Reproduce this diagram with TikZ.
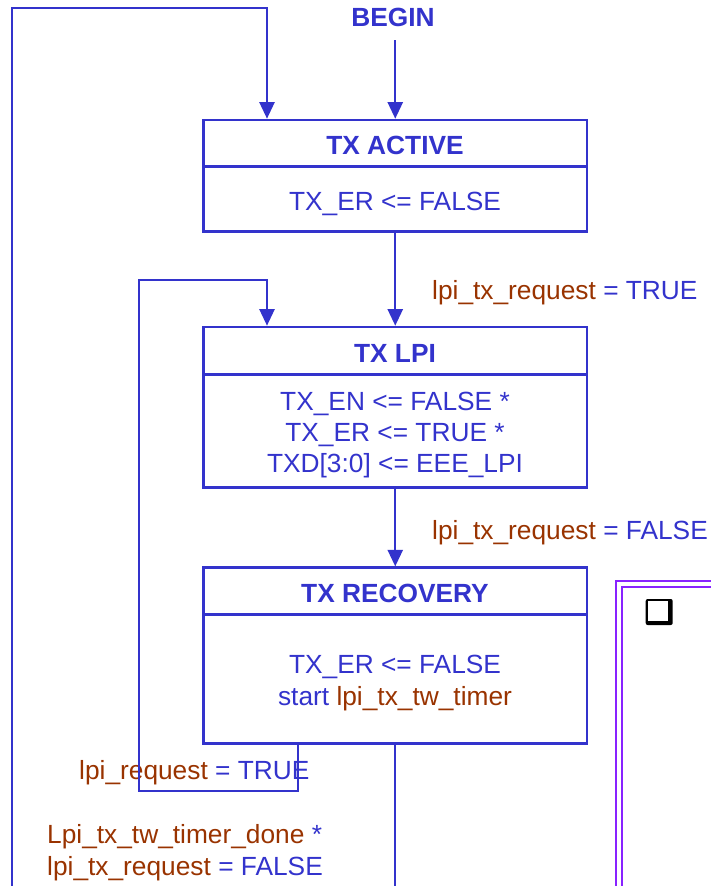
\documentclass[tikz,border=0pt]{standalone}
\usepackage{fontspec}
\setmainfont{Liberation Sans}
\usetikzlibrary{arrows.meta}
\definecolor{stateblue}{RGB}{51,51,204}
\definecolor{sigbrown}{RGB}{153,51,0}
\definecolor{notepurple}{RGB}{136,34,255}
\newcommand\signame[1]{\textcolor{sigbrown}{#1}}

\begin{document}
\begin{tikzpicture}[x=1pt,y=-1pt,
  line/.style={stateblue, line width=2.2pt},
  arr/.style={line, -{Triangle[width=15pt,length=16.5pt]}},
  statebox/.style={draw=stateblue, line width=2.6pt, minimum width=383.5pt, inner sep=0pt},
  divider/.style={stateblue, line width=2.6pt},
  txt/.style={text=stateblue, font=\fontsize{26.3}{31}\selectfont, inner sep=0pt, anchor=base},
  ttl/.style={txt, font=\fontsize{26.3}{31}\selectfont\bfseries},
  lbl/.style={txt, anchor=base west},
  notebox/.style={draw=notepurple, line width=2.2pt}]

\path[use as bounding box] (0,0) rectangle (711,886);

% note frame running off the page, with its bullet
\begin{scope}
  \clip (0,0) rectangle (711,886);
  \draw[notebox] (616,581) rectangle (760,950);
  \draw[notebox] (622,587) rectangle (760,950);
\end{scope}
\fill[black, rounded corners=2pt] (645.7,599) rectangle (672.7,625);
\fill[white] (647.5,600.7) rectangle (668.3,620.7);

% states
\node[statebox, minimum height=111.7pt] (active) at (395.25,175.85) {};
\node[statebox, minimum height=160.3pt] (lpi) at (395.25,407.15) {};
\node[statebox, minimum height=175.6pt] (recov) at (395.25,655.5) {};

\draw[divider] ([yshift=-47.7pt]active.north west) -- ([yshift=-47.7pt]active.north east);
\draw[divider] ([yshift=-49pt]lpi.north west) -- ([yshift=-49pt]lpi.north east);
\draw[divider] ([yshift=-48.3pt]recov.north west) -- ([yshift=-48.3pt]recov.north east);

\node[ttl] (begin) at (393,27) {BEGIN};

\node[ttl] (activettl) at (395,154) {TX ACTIVE};
\node[txt] (activebody) at (395,210) {TX\_ER <= FALSE};

\node[ttl] (lpittl) at (395,362) {TX LPI};
\node[txt] (lpibody1) at (395,410) {TX\_EN <= FALSE *};
\node[txt] (lpibody2) at (395,441) {TX\_ER <= TRUE *};
\node[txt] (lpibody3) at (395,472) {TXD[3:0] <= EEE\_LPI};

\node[ttl] (recovttl) at (395,602) {TX RECOVERY};
\node[txt] (recovbody1) at (395,673) {TX\_ER <= FALSE};
\node[txt] (recovbody2) at (395,705) {start \signame{lpi\_tx\_tw\_timer}};

% transition labels
\node[lbl] (cond1) at (432,299) {\signame{lpi\_tx\_request} = TRUE};
\node[lbl] (cond2) at (432,539) {\signame{lpi\_tx\_request} = FALSE};
\node[lbl] (cond3) at (79,779) {\signame{lpi\_request} = TRUE};
\node[lbl] (cond4a) at (47,843) {\signame{Lpi\_tx\_tw\_timer\_done} *};
\node[lbl] (cond4b) at (47,875) {\signame{lpi\_tx\_request} = FALSE};

% helper points for the routed connectors
\coordinate (outfoot) at (12,886);
\coordinate (outtop) at (12,8);
\coordinate (entryx) at (267,0);
\coordinate (retx) at (298,0);
\coordinate (loopl) at (139,280);
\coordinate (loopb) at (0,791);
\coordinate (recfoot) at (395.25,886);

% connectors
\draw[arr] ([yshift=-13pt]begin.base -| active.north) -- (active.north);
\draw[arr] (outfoot) -- (outtop) -- (outtop -| entryx) -- (entryx |- active.north);
\draw[arr] (active.south) -- (lpi.north);
\draw[arr] (recov.south -| retx) -- (retx |- loopb) -- (loopl |- loopb) -- (loopl) -- (loopl -| entryx) -- (entryx |- lpi.north);
\draw[arr] (lpi.south) -- (recov.north);
\draw[line] (recov.south) -- (recfoot);
\end{tikzpicture}
\end{document}
